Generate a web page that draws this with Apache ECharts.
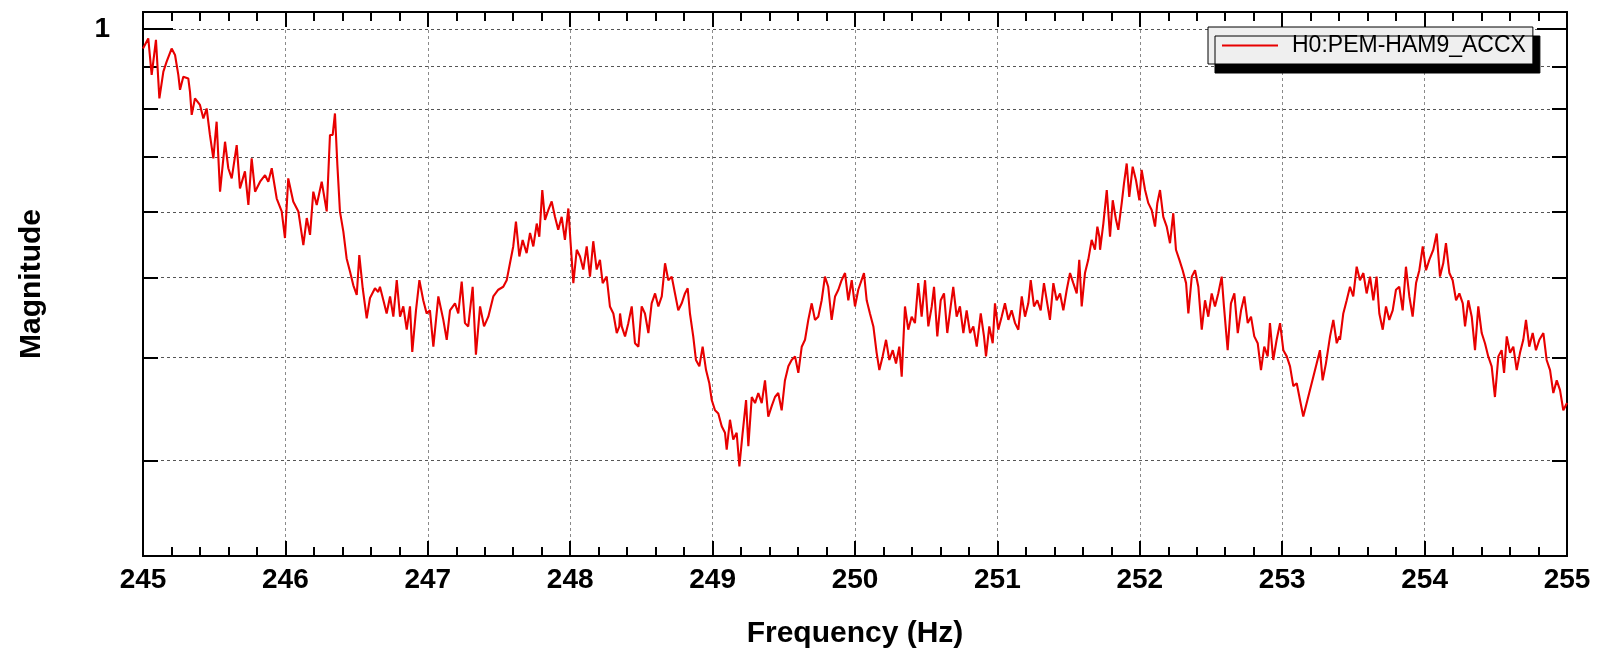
<!DOCTYPE html>
<html>
<head>
<meta charset="utf-8">
<title>Magnitude vs Frequency</title>
<script src="https://cdn.jsdelivr.net/npm/echarts@6.0.0/dist/echarts.min.js"></script>
<style>
  html, body { margin: 0; padding: 0; background: #ffffff; }
  #chart { width: 1599px; height: 657px; }
</style>
</head>
<body>
<div id="chart"></div>
<script>
// Channel shown in the legend
const channelName = 'H0:PEM-HAM9_ACCX';

// Frequency samples (Hz)
const freqHz = [
  245.000,245.037,245.061,245.091,245.115,245.143,245.166,245.201,245.225,245.248,
  245.260,245.283,245.318,245.330,245.342,245.365,245.400,245.424,245.447,245.470,
  245.494,245.517,245.541,245.576,245.599,245.623,245.658,245.681,245.716,245.740,
  245.763,245.787,245.822,245.857,245.880,245.904,245.939,245.974,245.997,246.020,
  246.055,246.091,246.126,246.150,246.173,246.196,246.220,246.255,246.290,246.313,
  246.332,246.348,246.365,246.383,246.407,246.430,246.454,246.477,246.501,246.519,
  246.543,246.571,246.594,246.629,246.652,
  246.664,246.688,246.711,246.735,246.758,246.782,246.805,246.828,246.852,246.875,
  246.891,246.917,246.941,246.968,246.992,247.015,247.039,247.074,247.109,247.133,
  247.156,247.191,247.214,247.238,247.261,247.284,247.315,247.338,247.367,247.395,
  247.425,247.460,247.495,247.530,247.554,247.577,247.600,247.619,247.643,247.666,
  247.694,247.718,247.741,247.765,247.783,247.804,247.823,247.846,247.870,247.893,
  247.916,247.940,247.963,247.987,248.003,248.022,248.046,248.069,248.092,248.116,
  248.139,248.162,248.186,248.209,248.228,248.256,248.279,248.303,248.327,248.345,
  248.350,248.362,248.385,248.408,248.432,248.455,248.479,248.502,248.525,248.549,
  248.572,248.596,248.619,248.643,248.666,248.689,248.713,248.736,248.759,248.783,
  248.806,248.825,248.841,248.864,248.883,248.907,248.930,248.954,248.977,248.994,
  249.017,249.040,249.064,249.087,249.099,249.122,249.145,249.169,249.188,249.211,
  249.235,249.251,249.275,249.298,249.321,249.345,249.368,249.391,249.415,249.438,
  249.461,249.485,249.508,249.532,249.555,249.579,249.602,249.626,249.649,249.672,
  249.696,249.719,249.742,249.766,249.789,249.812,249.836,249.860,249.883,249.906,
  249.930,249.953,249.977,250.000,250.023,
  250.035,250.063,250.082,250.105,250.129,250.152,250.171,250.194,250.218,250.241,
  250.265,250.288,250.311,250.328,250.351,250.374,250.398,250.421,250.444,250.468,
  250.492,250.515,250.539,250.555,250.578,250.602,250.625,250.648,250.672,250.690,
  250.714,250.737,250.761,250.784,250.808,250.831,250.855,250.883,250.906,250.920,
  250.943,250.967,250.983,251.006,251.030,251.053,251.077,251.100,251.124,251.147,
  251.171,251.194,251.217,251.234,251.257,251.280,251.304,251.327,251.350,251.369,
  251.393,251.416,251.440,251.463,251.487,251.510,251.533,251.557,251.575,251.592,
  251.615,251.638,251.662,251.685,251.702,251.716,
  251.721,251.744,251.768,251.791,251.810,251.833,251.849,251.873,251.889,251.908,
  251.926,251.950,251.973,251.997,252.013,252.037,252.060,252.084,252.107,252.123,
  252.142,252.165,252.189,252.212,252.235,252.254,252.278,252.301,252.325,252.341,
  252.365,252.388,252.411,252.435,252.458,252.481,252.505,252.528,252.551,252.575,
  252.591,252.617,252.640,252.664,252.688,252.711,252.734,252.758,252.781,252.804,
  252.828,252.851,252.874,252.898,252.914,252.937,252.961,252.985,253.008,253.032,
  253.055,253.078,253.102,253.125,253.148,253.172,253.195,253.219,253.242,253.265,
  253.284,253.307,253.336,253.359,253.383,253.401,
  253.406,253.429,253.453,253.476,253.499,253.523,253.546,253.570,253.593,253.617,
  253.640,253.663,253.682,253.706,253.729,253.752,253.776,253.799,253.822,253.846,
  253.869,253.893,253.916,253.940,253.963,253.987,254.010,254.033,254.061,254.085,
  254.108,254.131,254.150,254.174,254.197,254.221,254.244,254.268,254.284,254.307,
  254.331,254.354,254.377,254.401,254.424,254.447,254.471,254.494,254.518,254.541,
  254.558,254.577,254.600,254.623,254.647,254.670,254.693,254.712,254.735,254.759,
  254.782,254.806,254.834,254.857,254.881,254.904,254.928,254.951,254.974,255.000
];

// Spectrum magnitude at each frequency sample
const magnitude = [
  0.947,0.974,0.880,0.970,0.824,0.888,0.913,0.947,0.930,0.880,
  0.844,0.875,0.871,0.839,0.787,0.824,0.809,0.779,0.801,0.744,
  0.697,0.772,0.635,0.730,0.678,0.659,0.723,0.641,0.672,0.612,
  0.697,0.635,0.653,0.665,0.653,0.678,0.623,0.601,0.558,0.659,
  0.618,0.601,0.547,0.590,0.563,0.635,0.612,0.653,0.601,0.744,
  0.744,0.790,0.684,0.601,0.568,0.527,0.508,0.489,0.476,0.532,
  0.485,0.446,0.472,0.485,0.480,
  0.487,0.469,0.452,0.474,0.448,0.496,0.448,0.461,0.432,0.461,
  0.406,0.456,0.496,0.469,0.452,0.456,0.412,0.474,0.444,0.420,
  0.456,0.465,0.452,0.494,0.440,0.436,0.487,0.403,0.461,0.436,
  0.448,0.474,0.483,0.487,0.496,0.520,0.545,0.584,0.530,0.555,
  0.535,0.566,0.545,0.581,0.560,0.638,0.587,0.603,0.618,0.592,
  0.571,0.592,0.555,0.606,0.550,0.492,0.540,0.530,0.511,0.545,
  0.501,0.553,0.511,0.525,0.492,0.501,0.461,0.452,0.428,0.436,
  0.452,0.436,0.424,0.440,0.461,0.416,0.412,0.461,0.452,0.428,
  0.465,0.478,0.461,0.474,0.520,0.496,0.501,0.478,0.456,0.465,
  0.478,0.485,0.452,0.424,0.397,0.390,0.412,0.386,0.372,0.355,
  0.345,0.342,0.330,0.324,0.309,0.336,0.318,0.324,0.295,0.324,
  0.355,0.312,0.358,0.352,0.362,0.352,0.375,0.339,0.349,0.358,
  0.362,0.345,0.375,0.390,0.397,0.401,0.383,0.412,0.420,0.444,
  0.465,0.444,0.448,0.469,0.501,0.487,0.444,0.474,0.483,0.496,
  0.506,0.469,0.496,0.461,0.483,
  0.483,0.506,0.469,0.452,0.436,0.405,0.386,0.401,0.420,0.397,
  0.408,0.393,0.412,0.379,0.461,0.432,0.448,0.440,0.492,0.448,
  0.496,0.436,0.461,0.487,0.424,0.469,0.478,0.428,0.461,0.487,
  0.448,0.461,0.428,0.456,0.428,0.436,0.412,0.452,0.424,0.401,
  0.436,0.416,0.465,0.432,0.448,0.465,0.444,0.456,0.440,0.432,
  0.474,0.448,0.465,0.496,0.461,0.469,0.456,0.492,0.465,0.444,
  0.492,0.469,0.478,0.456,0.483,0.506,0.492,0.478,0.525,0.461,
  0.506,0.525,0.555,0.540,0.576,0.560,
  0.540,0.581,0.638,0.560,0.620,0.587,0.571,0.615,0.650,0.687,
  0.626,0.681,0.656,0.620,0.675,0.638,0.615,0.603,0.576,0.615,
  0.638,0.592,0.576,0.550,0.598,0.540,0.525,0.510,0.492,0.452,
  0.501,0.510,0.487,0.432,0.469,0.448,0.478,0.461,0.478,0.501,
  0.461,0.408,0.465,0.478,0.428,0.456,0.474,0.440,0.448,0.424,
  0.416,0.386,0.412,0.401,0.440,0.397,0.420,0.440,0.408,0.401,
  0.390,0.369,0.372,0.355,0.339,0.352,0.365,0.379,0.393,0.408,
  0.375,0.393,0.424,0.444,0.416,0.424,
  0.420,0.452,0.469,0.487,0.474,0.515,0.496,0.506,0.478,0.501,
  0.469,0.501,0.452,0.432,0.461,0.444,0.456,0.483,0.487,0.456,
  0.515,0.474,0.448,0.492,0.510,0.545,0.510,0.525,0.540,0.565,
  0.501,0.520,0.550,0.506,0.496,0.469,0.478,0.465,0.436,0.469,
  0.448,0.408,0.461,0.428,0.416,0.401,0.390,0.358,0.401,0.408,
  0.383,0.424,0.405,0.412,0.386,0.405,0.420,0.444,0.412,0.428,
  0.408,0.420,0.428,0.397,0.386,0.362,0.375,0.365,0.345,0.352
];

// Axis ranges and tick values
const freqMin = 245;
const freqMax = 255;
const magMin = 0.2297;
const magMax = 1.0486;
const magGridValues = [0.3, 0.4, 0.5, 0.6, 0.7, 0.8, 0.9, 1];
const magMajorValues = [1];
const magLabelValues = [1];

const FONT = '"Liberation Sans", Arial, Helvetica, sans-serif';
const BLACK = '#000000';

const points = freqHz.map((f, i) => [f, magnitude[i]]);

const chart = echarts.init(document.getElementById('chart'), null, { renderer: 'canvas' });

function logAxis(extra) {
  return Object.assign({
    type: 'log',
    logBase: 10,
    min: magMin,
    max: magMax,
    axisLine: { show: true, lineStyle: { color: BLACK, width: 2 } },
    axisLabel: { show: false },
    splitLine: { show: false },
    minorTick: { show: false },
    minorSplitLine: { show: false }
  }, extra);
}

function freqAxis(extra) {
  return Object.assign({
    type: 'value',
    min: freqMin,
    max: freqMax,
    interval: 1,
    axisLine: { show: true, onZero: false, lineStyle: { color: BLACK, width: 2 } },
    axisTick: { show: true, inside: true, length: 15, lineStyle: { color: BLACK, width: 2 } },
    minorTick: { show: true, splitNumber: 5, length: 9, lineStyle: { color: BLACK, width: 2 } },
    minorSplitLine: { show: false },
    axisLabel: { show: false },
    splitLine: { show: false }
  }, extra);
}

const option = {
  animation: false,
  backgroundColor: '#ffffff',
  grid: {
    left: 143,
    right: 32,
    top: 12,
    bottom: 101,
    containLabel: false,
    outerBoundsMode: 'none'
  },
  legend: {
    show: true,
    left: 1208,
    top: 27,
    orient: 'horizontal',
    padding: [7, 7, 7, 14],
    backgroundColor: '#efefef',
    borderColor: BLACK,
    borderWidth: 1,
    shadowColor: BLACK,
    shadowBlur: 0,
    shadowOffsetX: 7,
    shadowOffsetY: 9,
    itemWidth: 56,
    itemHeight: 2,
    icon: 'rect',
    selectedMode: false,
    textStyle: {
      fontFamily: FONT,
      fontSize: 23,
      color: BLACK,
      padding: [0, 0, 0, 9]
    },
    data: [{ name: channelName }]
  },
  xAxis: [
    freqAxis({
      position: 'bottom',
      name: 'Frequency (Hz)',
      nameLocation: 'middle',
      nameGap: 63,
      nameTextStyle: { fontFamily: FONT, fontSize: 30, fontWeight: 'bold', color: BLACK },
      axisLabel: {
        show: true,
        margin: 10,
        fontFamily: FONT,
        fontSize: 28,
        fontWeight: 'bold',
        color: BLACK,
        formatter: v => String(v)
      },
      splitLine: { show: true, lineStyle: { color: '#8a8a8a', width: 1, type: [3, 3] } }
    }),
    freqAxis({ position: 'top' })
  ],
  yAxis: [
    logAxis({
      position: 'left',
      name: 'Magnitude',
      nameLocation: 'middle',
      nameRotate: 90,
      nameGap: 96,
      nameTextStyle: { fontFamily: FONT, fontSize: 30, fontWeight: 'bold', color: BLACK },
      axisTick: { show: true, inside: true, length: 15, customValues: magGridValues,
                  lineStyle: { color: BLACK, width: 2 } },
      axisLabel: {
        show: true,
        customValues: magLabelValues,
        margin: 33,
        fontFamily: FONT,
        fontSize: 28,
        fontWeight: 'bold',
        color: BLACK,
        formatter: v => String(Math.round(v * 10) / 10)
      },
      splitLine: { show: true, lineStyle: { color: '#555555', width: 1, type: [3, 3] } }
    }),
    logAxis({
      position: 'left',
      axisTick: { show: true, inside: true, length: 30, customValues: magMajorValues,
                  lineStyle: { color: BLACK, width: 2 } }
    }),
    logAxis({
      position: 'right',
      axisTick: { show: true, inside: true, length: 15, customValues: magGridValues,
                  lineStyle: { color: BLACK, width: 2 } }
    }),
    logAxis({
      position: 'right',
      axisTick: { show: true, inside: true, length: 30, customValues: magMajorValues,
                  lineStyle: { color: BLACK, width: 2 } }
    })
  ],
  series: [
    {
      name: channelName,
      type: 'line',
      xAxisIndex: 0,
      yAxisIndex: 0,
      data: points,
      showSymbol: false,
      symbol: 'none',
      clip: true,
      lineStyle: { color: '#e80000', width: 2.1 },
      itemStyle: { color: '#e80000' },
      z: 3
    }
  ]
};

chart.setOption(option);
</script>
</body>
</html>
